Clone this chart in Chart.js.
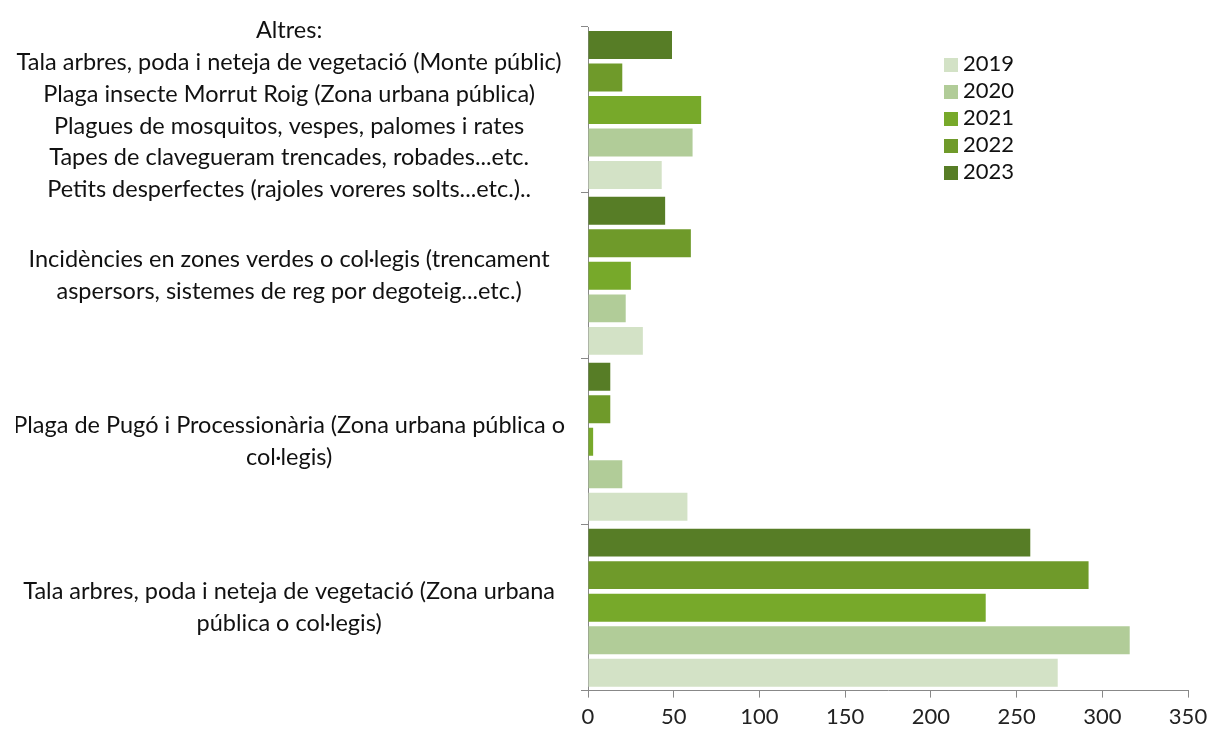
<!DOCTYPE html>
<html>
<head>
<meta charset="utf-8">
<script src="https://cdn.jsdelivr.net/npm/chart.js@4.4.0/dist/chart.umd.min.js"></script>
<style>
  html, body { margin: 0; padding: 0; background: #fff; }
  #wrap { position: relative; width: 1215px; height: 753px; }
  #llegenda { position: absolute; left: 944px; top: 49px; font-family: Lato, sans-serif; font-size: 22px; color: #111; }
  #llegenda div { height: 27px; line-height: 27px; }
  #llegenda span { display: inline-block; width: 14px; height: 14px; margin-right: 5px; vertical-align: -1px; }
</style>
</head>
<body>
<div id="wrap">
  <canvas id="grafic" width="1215" height="753"></canvas>
  <div id="llegenda"></div>
</div>
<script>
// categories de dalt a baix
const categories = [
    ['Altres:',
     'Tala arbres, poda i neteja de vegetació (Monte públic)',
     'Plaga insecte Morrut Roig (Zona urbana pública)',
     'Plagues de mosquitos, vespes, palomes i rates',
     'Tapes de clavegueram trencades, robades...etc.',
     'Petits desperfectes (rajoles voreres solts...etc.)..'],
    ['Incidències en zones verdes o col·legis (trencament',
     'aspersors, sistemes de reg por degoteig...etc.)'],
    ['Plaga de Pugó i Processionària (Zona urbana pública o',
     'col·legis)'],
    ['Tala arbres, poda i neteja de vegetació (Zona urbana',
     'pública o col·legis)']
];

const anys = ['2019', '2020', '2021', '2022', '2023'];
const colors = ['#d3e2c6', '#b1cc98', '#77a92a', '#6f9a2a', '#577d26'];

// valors per any, en el mateix ordre que les categories
const valors2019 = [43, 32, 58, 274];
const valors2020 = [61, 22, 20, 316];
const valors2021 = [66, 25, 3, 232];
const valors2022 = [20, 60, 13, 292];
const valors2023 = [49, 45, 13, 258];
const valors = [valors2019, valors2020, valors2021, valors2022, valors2023];

const ticksX = [0, 50, 100, 150, 200, 250, 300, 350];

// 2023 dalt de tot dins de cada grup, per aixo es posen al reves
const datasets = [];
for (let i = anys.length - 1; i >= 0; i--) {
    datasets.push({
        label: anys[i],
        data: valors[i],
        backgroundColor: colors[i],
        borderWidth: 0,
        barPercentage: 0.86,
        categoryPercentage: 0.98
    });
}

// llegenda a ma, 2019 primer
const llegenda = document.getElementById('llegenda');
anys.forEach((a, i) => {
    const d = document.createElement('div');
    d.innerHTML = '<span style="background:' + colors[i] + '"></span>' + a;
    llegenda.appendChild(d);
});

const ctx = document.getElementById('grafic').getContext('2d');
const grafic = new Chart(ctx, {
    type: 'bar',
    data: { labels: categories, datasets: datasets },
    options: {
        indexAxis: 'y',
        responsive: false,
        animation: false,
        layout: { padding: { top: 27, right: 27, bottom: 17, left: 16 } },
        plugins: { legend: { display: false }, tooltip: { enabled: false } },
        scales: {
            x: {
                min: 0,
                max: 350,
                afterBuildTicks: (s) => { s.ticks = ticksX.map(v => ({ value: v })); },
                grid: { drawOnChartArea: false, tickLength: 7, color: '#888' },
                border: { color: '#888' },
                ticks: { color: '#222', padding: 6, font: { family: 'Lato', size: 22 } }
            },
            y: {
                grid: { drawOnChartArea: false, tickLength: 7, color: '#888', offset: true },
                border: { color: '#888' },
                ticks: {
                    crossAlign: 'center',
                    color: '#111',
                    padding: 16,
                    autoSkip: false,
                    font: { family: 'Lato', size: 23.5, lineHeight: 1.36 }
                },
                afterFit: (s) => { s.width = 572; s.paddingTop = 0; s.paddingBottom = 0; }
            }
        }
    }
});
</script>
</body>
</html>
